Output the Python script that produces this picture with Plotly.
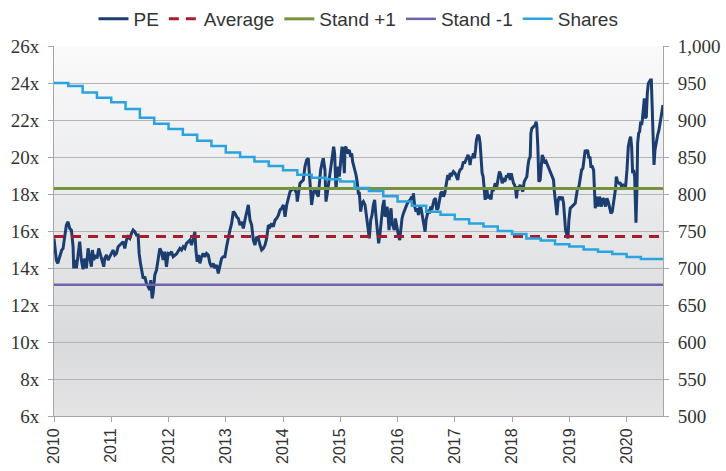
import base64
import plotly.graph_objects as go

# ---- PE multiple (decimal year, value) ----
pe_years = [
    2010.000, 2010.018, 2010.041, 2010.065, 2010.111, 2010.135, 2010.158, 2010.187, 2010.216, 2010.245,
    2010.274, 2010.304, 2010.333, 2010.344, 2010.368, 2010.391, 2010.420, 2010.449, 2010.478, 2010.508,
    2010.537, 2010.566, 2010.595, 2010.624, 2010.653, 2010.671, 2010.694, 2010.723, 2010.752, 2010.781,
    2010.811, 2010.846, 2010.869, 2010.886, 2010.916, 2010.945, 2010.974, 2011.003, 2011.032, 2011.061,
    2011.091, 2011.120, 2011.149, 2011.178, 2011.207, 2011.236, 2011.265, 2011.294, 2011.324, 2011.353,
    2011.382, 2011.411, 2011.440, 2011.469, 2011.487, 2011.510, 2011.533, 2011.557, 2011.586, 2011.615,
    2011.644, 2011.673, 2011.690, 2011.714, 2011.731, 2011.760, 2011.790, 2011.819, 2011.848, 2011.877,
    2011.906, 2011.935, 2011.964, 2011.994, 2012.023, 2012.052, 2012.081, 2012.139, 2012.198, 2012.227,
    2012.256, 2012.285, 2012.314, 2012.343, 2012.373, 2012.402, 2012.431, 2012.460, 2012.478, 2012.501,
    2012.524, 2012.548, 2012.577, 2012.606, 2012.635, 2012.664, 2012.694, 2012.723, 2012.752, 2012.781,
    2012.810, 2012.839, 2012.869, 2012.898, 2012.927, 2012.956, 2012.985, 2013.014, 2013.044, 2013.073,
    2013.102, 2013.131, 2013.160, 2013.189, 2013.219, 2013.248, 2013.277, 2013.306, 2013.335, 2013.364,
    2013.394, 2013.423, 2013.452, 2013.481, 2013.510, 2013.539, 2013.569, 2013.598, 2013.627, 2013.656,
    2013.685, 2013.714, 2013.744, 2013.773, 2013.802, 2013.831, 2013.860, 2013.889, 2013.919, 2013.948,
    2013.977, 2014.006, 2014.035, 2014.064, 2014.094, 2014.123, 2014.150, 2014.179, 2014.208, 2014.237,
    2014.249, 2014.267, 2014.296, 2014.325, 2014.354, 2014.383, 2014.412, 2014.441, 2014.458, 2014.482,
    2014.499, 2014.528, 2014.557, 2014.587, 2014.616, 2014.633, 2014.657, 2014.686, 2014.703, 2014.732,
    2014.750, 2014.773, 2014.808, 2014.831, 2014.849, 2014.866, 2014.884, 2014.901, 2014.925, 2014.942,
    2014.966, 2014.983, 2014.995, 2015.012, 2015.030, 2015.053, 2015.071, 2015.082, 2015.100, 2015.117,
    2015.140, 2015.158, 2015.181, 2015.199, 2015.216, 2015.240, 2015.257, 2015.275, 2015.298, 2015.315,
    2015.333, 2015.356, 2015.379, 2015.403, 2015.432, 2015.461, 2015.490, 2015.507, 2015.531, 2015.554,
    2015.577, 2015.600, 2015.624, 2015.647, 2015.670, 2015.694, 2015.717, 2015.741, 2015.764, 2015.781,
    2015.799, 2015.816, 2015.834, 2015.851, 2015.869, 2015.886, 2015.904, 2015.927, 2015.944, 2015.962,
    2015.985, 2016.003, 2016.020, 2016.038, 2016.055, 2016.078, 2016.102, 2016.131, 2016.160, 2016.189,
    2016.219, 2016.248, 2016.265, 2016.277, 2016.300, 2016.323, 2016.347, 2016.364, 2016.382, 2016.405,
    2016.423, 2016.440, 2016.463, 2016.481, 2016.498, 2016.522, 2016.539, 2016.557, 2016.580, 2016.597,
    2016.615, 2016.638, 2016.662, 2016.685, 2016.708, 2016.732, 2016.755, 2016.778, 2016.801, 2016.825,
    2016.842, 2016.860, 2016.877, 2016.900, 2016.918, 2016.947, 2016.976, 2017.005, 2017.034, 2017.052,
    2017.069, 2017.093, 2017.122, 2017.151, 2017.168, 2017.192, 2017.209, 2017.232, 2017.250, 2017.267,
    2017.285, 2017.302, 2017.326, 2017.343, 2017.361, 2017.378, 2017.402, 2017.425, 2017.442, 2017.460,
    2017.477, 2017.495, 2017.513, 2017.530, 2017.548, 2017.565, 2017.583, 2017.600, 2017.618, 2017.635,
    2017.652, 2017.676, 2017.705, 2017.734, 2017.763, 2017.780, 2017.804, 2017.827, 2017.851, 2017.874,
    2017.897, 2017.920, 2017.944, 2017.967, 2017.985, 2018.002, 2018.025, 2018.043, 2018.060, 2018.078,
    2018.095, 2018.118, 2018.142, 2018.165, 2018.188, 2018.212, 2018.229, 2018.258, 2018.276, 2018.293,
    2018.317, 2018.328, 2018.346, 2018.375, 2018.404, 2018.421, 2018.433, 2018.450, 2018.468, 2018.491,
    2018.509, 2018.526, 2018.550, 2018.573, 2018.596, 2018.619, 2018.643, 2018.666, 2018.684, 2018.701,
    2018.724, 2018.736, 2018.754, 2018.771, 2018.783, 2018.806, 2018.829, 2018.853, 2018.876, 2018.899,
    2018.917, 2018.934, 2018.958, 2018.975, 2018.993, 2019.016, 2019.045, 2019.074, 2019.103, 2019.121,
    2019.144, 2019.168, 2019.191, 2019.214, 2019.237, 2019.261, 2019.278, 2019.296, 2019.319, 2019.342,
    2019.360, 2019.377, 2019.400, 2019.424, 2019.435, 2019.453, 2019.470, 2019.488, 2019.505, 2019.529,
    2019.546, 2019.564, 2019.587, 2019.610, 2019.634, 2019.657, 2019.680, 2019.704, 2019.727, 2019.750,
    2019.773, 2019.791, 2019.808, 2019.820, 2019.843, 2019.867, 2019.890, 2019.914, 2019.937, 2019.960,
    2019.983, 2020.007, 2020.030, 2020.053, 2020.071, 2020.088, 2020.106, 2020.123, 2020.141, 2020.152,
    2020.164, 2020.182, 2020.193, 2020.211, 2020.228, 2020.246, 2020.263, 2020.275, 2020.292, 2020.310,
    2020.327, 2020.345, 2020.362, 2020.380, 2020.397, 2020.415, 2020.432, 2020.450, 2020.467, 2020.479,
    2020.496, 2020.520, 2020.543, 2020.566, 2020.590, 2020.613, 2020.636,
]
pe_values = [
    15.60, 15.15, 14.43, 14.25, 14.70, 14.97, 15.06, 15.87, 16.32, 16.50,
    16.14, 16.05, 15.15, 13.98, 14.43, 13.98, 14.79, 15.42, 14.43, 13.93,
    14.52, 13.98, 15.06, 14.43, 14.07, 14.97, 14.43, 14.70, 14.52, 15.06,
    14.70, 14.34, 14.07, 14.52, 14.70, 14.43, 14.61, 14.79, 14.97, 14.70,
    14.79, 15.15, 15.24, 15.33, 15.42, 15.06, 15.51, 15.69, 15.60, 15.87,
    16.05, 15.96, 15.78, 15.78, 14.79, 14.25, 13.89, 13.44, 13.53, 13.17,
    12.99, 12.81, 13.35, 12.36, 12.63, 13.62, 13.89, 14.61, 15.06, 14.88,
    14.43, 14.88, 14.07, 14.79, 14.75, 14.88, 14.61, 14.76, 15.06, 14.97,
    15.15, 15.06, 15.33, 15.42, 15.51, 15.24, 15.69, 15.96, 14.97, 14.34,
    14.70, 14.25, 14.61, 14.79, 14.61, 14.79, 14.70, 14.25, 14.07, 14.25,
    13.98, 14.16, 13.71, 14.07, 14.52, 14.61, 14.61, 15.15, 15.69, 16.05,
    16.41, 17.05, 16.95, 16.77, 16.68, 16.32, 16.50, 16.14, 16.59, 17.05,
    17.41, 16.59, 16.32, 15.51, 15.24, 15.69, 15.60, 15.24, 14.97, 15.06,
    15.24, 15.60, 16.32, 16.23, 16.41, 16.23, 16.59, 16.68, 16.86, 17.14,
    17.23, 17.41, 16.77, 17.41, 17.86, 18.13, 18.22, 18.31, 18.22, 18.04,
    17.59, 17.95, 18.58, 18.67, 18.76, 19.48, 19.84, 19.93, 19.12, 18.13,
    17.41, 18.04, 18.31, 18.04, 17.86, 18.49, 19.30, 19.75, 19.93, 19.30,
    17.59, 18.04, 18.76, 19.21, 19.66, 20.11, 20.56, 20.20, 18.22, 18.94,
    19.48, 18.94, 19.48, 19.66, 20.56, 20.02, 19.12, 20.47, 20.56, 20.20,
    20.29, 20.38, 20.02, 20.20, 19.75, 19.48, 19.30, 19.03, 18.58, 18.04,
    18.04, 17.05, 17.50, 17.59, 17.41, 16.68, 16.05, 15.60, 16.59, 16.86,
    17.41, 17.68, 16.77, 16.05, 15.33, 15.87, 16.77, 17.32, 17.68, 16.77,
    16.95, 17.32, 16.86, 16.05, 16.77, 17.23, 16.41, 16.23, 16.05, 16.68,
    16.23, 15.87, 15.69, 15.51, 16.23, 16.68, 16.95, 17.23, 17.41, 17.59,
    17.68, 17.86, 17.59, 18.04, 17.32, 17.05, 17.23, 16.86, 17.23, 17.32,
    16.95, 16.68, 16.32, 15.96, 16.59, 16.95, 17.14, 16.95, 17.32, 17.14,
    17.41, 17.68, 17.77, 17.14, 17.23, 17.68, 18.04, 18.13, 17.86, 18.04,
    18.40, 18.67, 19.03, 18.76, 19.12, 19.03, 19.21, 19.12, 18.94, 18.76,
    19.12, 19.30, 19.39, 19.75, 19.66, 19.84, 20.02, 20.11, 19.93, 19.57,
    20.02, 19.93, 20.20, 19.93, 20.38, 20.92, 21.19, 21.10, 20.74, 19.84,
    19.12, 18.94, 18.22, 17.68, 18.13, 18.13, 17.77, 17.95, 17.77, 17.77,
    18.22, 18.22, 18.58, 18.40, 18.94, 19.21, 19.03, 18.58, 18.76, 18.67,
    18.94, 18.94, 19.12, 18.76, 19.12, 18.85, 18.58, 18.49, 18.31, 17.77,
    18.40, 18.31, 18.49, 18.31, 18.13, 18.67, 18.76, 18.94, 19.48, 19.84,
    20.02, 21.28, 21.55, 21.64, 21.73, 21.91, 21.64, 20.56, 18.67, 18.76,
    19.84, 20.11, 19.93, 19.66, 19.75, 19.57, 19.48, 19.30, 19.12, 18.94,
    18.76, 18.22, 17.68, 17.50, 16.86, 17.68, 17.86, 17.68, 17.86, 17.50,
    16.59, 16.05, 15.78, 15.60, 16.59, 17.23, 17.32, 17.41, 17.50, 17.86,
    18.31, 18.40, 18.85, 19.30, 19.39, 19.84, 20.38, 20.29, 20.38, 19.93,
    20.02, 19.48, 19.48, 19.30, 18.49, 17.23, 17.86, 17.68, 17.32, 17.86,
    17.50, 17.32, 17.77, 17.68, 17.32, 17.77, 17.59, 17.14, 16.95, 17.05,
    17.50, 18.04, 18.31, 18.94, 18.67, 18.58, 18.58, 18.40, 18.49, 18.49,
    18.40, 19.30, 20.56, 20.92, 21.10, 20.56, 19.12, 19.30, 18.94, 17.68,
    16.45, 18.40, 20.74, 21.28, 21.37, 21.91, 21.73, 22.00, 22.90, 23.17,
    22.09, 22.18, 23.44, 23.98, 24.07, 24.16, 24.16, 22.54, 19.84, 19.57,
    20.38, 20.92, 21.19, 21.46, 21.91, 22.36, 22.81,
]

# ---- Reference bands for the PE multiple ----
pe_average = 15.7
pe_stand_plus1 = 18.3
pe_stand_minus1 = 13.1

# ---- Shares outstanding (millions), quarterly ----
shares_years = [
    2010.00, 2010.25, 2010.50, 2010.75, 2011.00, 2011.25, 2011.50, 2011.75,
    2012.00, 2012.25, 2012.50, 2012.75, 2013.00, 2013.25, 2013.50, 2013.75,
    2014.00, 2014.25, 2014.50, 2014.75, 2015.00, 2015.25, 2015.50, 2015.75,
    2016.00, 2016.25, 2016.50, 2016.75, 2017.00, 2017.25, 2017.50, 2017.75,
    2018.00, 2018.25, 2018.50, 2018.75, 2019.00, 2019.25, 2019.50, 2019.75,
    2020.00, 2020.25, 2020.636,
]
shares_values = [
    950, 946, 937, 930, 924, 915, 903, 895,
    888, 880, 872, 865, 856, 850, 844, 838,
    832, 826, 822, 820, 817, 808, 804, 797,
    790, 784, 776, 772, 766, 760, 756, 750,
    746, 740, 737, 732, 729, 725, 722, 719,
    715, 712, 712,
]

year_ticks = list(range(2010, 2021))
pe_ticks = list(range(6, 27, 2))
pe_tick_labels = [f"{v}x" for v in pe_ticks]
share_ticks = list(range(500, 1001, 50))
share_tick_labels = [f"{v:,}" for v in share_ticks]

x_span = [2010, 2020.636]

# soft vertical gradient for the plotting area
svg = (
    '<svg xmlns="http://www.w3.org/2000/svg" width="10" height="100" preserveAspectRatio="none">'
    '<defs><linearGradient id="g" x1="0" y1="0" x2="0" y2="1">'
    '<stop offset="0" stop-color="#fafafb"/>'
    '<stop offset="0.45" stop-color="#e8e9eb"/>'
    '<stop offset="0.8" stop-color="#d9dadc"/>'
    '<stop offset="1" stop-color="#e4e4e5"/>'
    '</linearGradient></defs>'
    '<rect width="10" height="100" fill="url(#g)"/></svg>'
)
bg_uri = "data:image/svg+xml;base64," + base64.b64encode(svg.encode()).decode()

fig = go.Figure()

fig.add_trace(go.Scatter(
    x=pe_years, y=pe_values, name="PE", mode="lines",
    line=dict(color="#1b3d6f", width=3),
))
fig.add_trace(go.Scatter(
    x=x_span, y=[pe_average] * 2, name="Average", mode="lines",
    line=dict(color="#a81d2c", width=3, dash="10px,7px"),
))
fig.add_trace(go.Scatter(
    x=x_span, y=[pe_stand_plus1] * 2, name="Stand +1", mode="lines",
    line=dict(color="#76923c", width=3),
))
fig.add_trace(go.Scatter(
    x=x_span, y=[pe_stand_minus1] * 2, name="Stand -1", mode="lines",
    line=dict(color="#7262ac", width=2.5),
))
fig.add_trace(go.Scatter(
    x=shares_years, y=shares_values, name="Shares", mode="lines",
    line=dict(color="#2aa3df", width=2.5, shape="hv"),
    yaxis="y2",
))

serif = dict(family="Liberation Serif, Times New Roman, serif", size=19, color="#333333")
axis_grey = "#a6a6a6"

fig.update_layout(
    width=726, height=471,
    margin=dict(l=54, r=63, t=46, b=55, autoexpand=False),
    paper_bgcolor="white",
    plot_bgcolor="rgba(0,0,0,0)",
    showlegend=True,
    legend=dict(
        orientation="h", x=0.5, xanchor="center",
        y=1.0, yref="container", yanchor="top",
        font=dict(family="Liberation Sans, Arial, sans-serif", size=19, color="#333333"),
        bgcolor="rgba(0,0,0,0)", itemwidth=30, tracegroupgap=0,
    ),
    images=[dict(
        source=bg_uri, xref="paper", yref="paper", x=0, y=1,
        sizex=1, sizey=1, xanchor="left", yanchor="top",
        sizing="stretch", layer="below",
    )],
    xaxis=dict(
        range=x_span, tickvals=year_ticks, ticktext=[str(y) for y in year_ticks],
        tickangle=-90, showgrid=False, zeroline=False, automargin=False,
        showline=True, linecolor=axis_grey, linewidth=1,
        ticks="outside", ticklen=5, tickcolor=axis_grey,
        tickfont=dict(family="Liberation Sans, Arial, sans-serif", size=16, color="#333333"),
    ),
    yaxis=dict(
        range=[6, 26], tickvals=pe_ticks, ticktext=pe_tick_labels,
        showgrid=True, gridcolor="#b4b4b6", gridwidth=1, zeroline=False, automargin=False,
        showline=True, linecolor=axis_grey, linewidth=1,
        ticks="outside", ticklen=5, tickcolor=axis_grey, ticklabelstandoff=5,
        tickfont=serif,
    ),
    yaxis2=dict(
        range=[500, 1000], tickvals=share_ticks, ticktext=share_tick_labels,
        overlaying="y", side="right", showgrid=False, zeroline=False, automargin=False,
        showline=True, linecolor=axis_grey, linewidth=1,
        ticks="outside", ticklen=5, tickcolor=axis_grey, ticklabelstandoff=5,
        tickfont=serif,
    ),
)

fig.write_html("out.html")
